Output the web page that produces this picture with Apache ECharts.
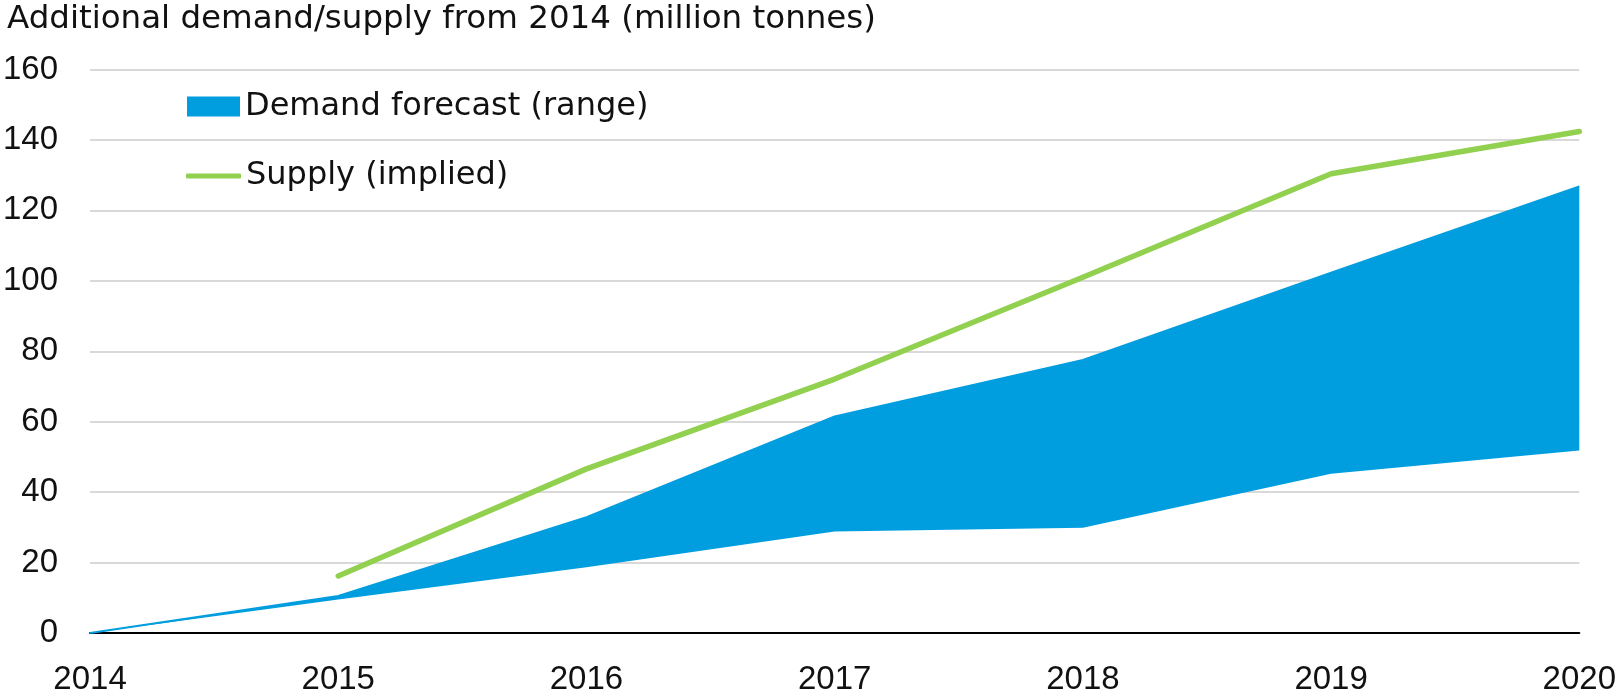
<!DOCTYPE html>
<html>
<head>
<meta charset="utf-8">
<script src="https://cdn.jsdelivr.net/npm/echarts@6/dist/echarts.min.js"></script>
<style>
html,body{margin:0;padding:0;background:#fff;}
#c{width:1619px;height:696px;}
</style>
</head>
<body>
<div id="c"></div>
<script>
const years = ['2014','2015','2016','2017','2018','2019','2020'];
const demandLow = [0, 9.5, 18.7, 28.8, 29.9, 45.2, 51.8];
const demandHigh = [0, 10.5, 32.9, 61.5, 77.5, 102.3, 126.8];
const supply = [null, 16.2, 46.6, 72.1, 101, 130.4, 142.4];
const yTicks = [0, 20, 40, 60, 80, 100, 120, 140, 160];

const demandSpan = demandHigh.map((v, i) => +(v - demandLow[i]).toFixed(2));
const FONT = '"Liberation Sans", Arial, sans-serif';
const WIDE = '"DejaVu Sans", sans-serif';
const BLUE = '#009EDF';
const GREEN = '#92D050';

const chart = echarts.init(document.getElementById('c'), null, {renderer: 'canvas'});
chart.setOption({
  animation: false,
  backgroundColor: '#ffffff',
  title: {
    text: 'Additional demand/supply from 2014 (million tonnes)',
    left: 7, top: 3, padding: [0, 0, 0, 0],
    textStyle: {fontFamily: WIDE, fontSize: 32.5, fontWeight: 'normal', color: '#111'}
  },
  legend: [{
    data: ['Demand forecast (range)'],
    left: 187, top: 90.5, padding: 0,
    icon: 'rect', itemWidth: 53, itemHeight: 20, itemGap: 0,
    textStyle: {fontFamily: WIDE, fontSize: 32, color: '#111'}
  }, {
    data: ['Supply (implied)'],
    left: 186, top: 160, padding: 0,
    icon: 'roundRect', itemWidth: 55, itemHeight: 5, itemGap: 0,
    itemStyle: {color: GREEN},
    textStyle: {fontFamily: WIDE, fontSize: 32, color: '#111'}
  }],
  grid: {left: 89, right: 38, top: 69.5, bottom: 61.5, containLabel: false},
  xAxis: {
    type: 'category', data: years, boundaryGap: false,
    axisLine: {lineStyle: {color: '#000', width: 2}},
    axisTick: {show: false},
    axisLabel: {fontFamily: FONT, fontSize: 33, color: '#111', margin: 30, interval: 0},
    splitLine: {show: false}
  },
  yAxis: {
    type: 'value', min: yTicks[0], max: yTicks[yTicks.length - 1], interval: 20,
    axisLine: {show: false}, axisTick: {show: false},
    axisLabel: {fontFamily: FONT, fontSize: 33, color: '#111', margin: 32},
    splitLine: {lineStyle: {color: '#D9D9D9', width: 2}}
  },
  series: [{
    name: 'low', type: 'line', stack: 'd', data: demandLow,
    symbol: 'none', lineStyle: {width: 0, opacity: 0}, silent: true
  }, {
    name: 'Demand forecast (range)', type: 'line', stack: 'd', data: demandSpan,
    symbol: 'none', itemStyle: {color: BLUE},
    lineStyle: {width: 2, color: BLUE},
    areaStyle: {color: BLUE, opacity: 1}
  }, {
    name: 'Supply (implied)', type: 'line', data: supply,
    symbol: 'none', itemStyle: {color: GREEN},
    lineStyle: {width: 5.5, color: GREEN, cap: 'round', join: 'round'}
  }]
});
</script>
</body>
</html>
